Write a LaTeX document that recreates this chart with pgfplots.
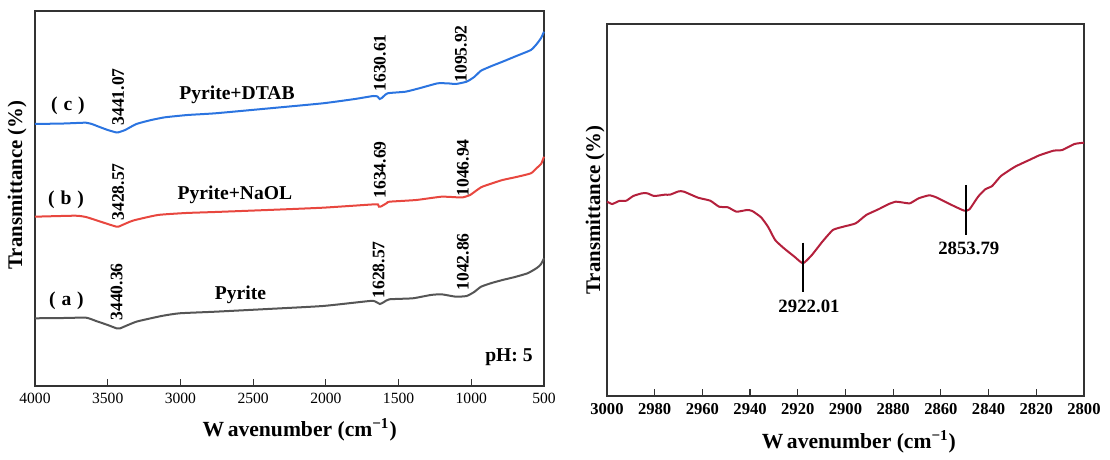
\documentclass[border=0pt]{standalone}
\usepackage{fontspec}
\setmainfont{Liberation Serif}
\usepackage{pgfplots}
\pgfplotsset{compat=1.18}
\definecolor{cblue}{HTML}{2B74E0}
\definecolor{cred}{HTML}{E8473F}
\definecolor{cgray}{HTML}{555555}
\definecolor{ccrim}{HTML}{B4203C}
\newcommand{\fs}[1]{\fontsize{#1}{#1}\selectfont}
\begin{document}
\begin{tikzpicture}
\useasboundingbox (0,0) rectangle (555pt,230pt);
\begin{axis}[
  at={(17.5pt,37pt)}, anchor=south west,
  width=254.5pt, height=187.5pt, scale only axis,
  xmin=500, xmax=4000, x dir=reverse, ymin=0, ymax=375,
  xtick={500,1000,...,4000}, ytick=\empty,
  tick align=inside, xtick pos=lower, major tick length=3.5pt,
  axis line style={line width=0.6pt, black!80}, tick style={line width=0.6pt, black!80},
  /pgf/number format/assume math mode=true,
  /pgf/number format/1000 sep={},
  tick label style={font=\fs{7.8}},
  xlabel={\textbf{W\,avenumber (cm\textsuperscript{\textminus1})}},
  xlabel style={at={(axis description cs:0.52,-0.117)}, anchor=center, font=\fs{10.8}},
  ylabel={\textbf{Transmittance (\%)}},
  ylabel style={at={(axis description cs:-0.035,0.536)}, anchor=center, font=\fs{10.4}},
  clip=false,
]
\addplot[cblue, line width=1pt, smooth, tension=0.3] coordinates {
(4000,262)(3800,262.5)(3649,263.3)(3600,261.5)(3574,260)(3500,256)(3440,253.5)(3426,253.7)(3380,256)(3303,262)(3200,266)(3106,268.7)(2950,271)(2760,272.7)(2400,277.5)(2020,282.7)(1800,287)(1674,290)(1645,289.5)(1630,287)(1615,288)(1575,292.7)(1452,294.3)(1350,298)(1230,302.7)(1150,302.5)(1106,302)(1032,304.3)(980,309)(933,315.3)(860,320)(785,324.3)(690,330)(590,336)(550,342)(520,348)(500,354.3)};
\addplot[cred, line width=1pt, smooth, tension=0.3] coordinates {
(4000,169.3)(3722,170.3)(3650,169)(3599,166.7)(3500,162)(3440,159.3)(3426,159.3)(3328,165.3)(3155,171)(2960,173)(2760,174)(2400,176)(2020,178.3)(1662,181.7)(1640,181)(1634,179.3)(1621,179.5)(1580,183)(1563,184.3)(1378,186)(1205,189.3)(1100,188.7)(1057,188.7)(1008,191)(933,198.7)(860,202.5)(785,206)(690,209)(590,212.7)(550,218)(520,222)(500,229.3)};
\addplot[cgray, line width=1pt, smooth, tension=0.3] coordinates {
(4000,67.7)(3800,68)(3649,68.3)(3580,65)(3500,61)(3440,57.7)(3414,57.7)(3303,64.3)(3130,70)(3006,72.7)(2760,74.3)(2400,77)(2020,80)(1699,85)(1660,84.5)(1628,82)(1600,84)(1563,86.7)(1402,87.7)(1279,91)(1205,91.7)(1106,89.3)(1032,90)(980,94)(933,99.3)(860,103)(785,106)(700,109)(613,112.7)(560,117)(538,119.3)(520,122)(500,127.7)};
\begin{scope}[every node/.style={font=\bfseries\fs{9.8}}]
\node at (axis cs:3773,280) {(\hspace{0.3em}c\hspace{0.3em})};
\node at (axis cs:3787,186) {(\hspace{0.3em}b\hspace{0.3em})};
\node at (axis cs:3784,85) {(\hspace{0.3em}a\hspace{0.3em})};
\node at (axis cs:2611,291) {Pyrite+DTAB};
\node at (axis cs:2625,191) {Pyrite+NaOL};
\node at (axis cs:2587,91) {Pyrite};
\node at (axis cs:741,29) {pH: 5};
\end{scope}
\begin{scope}[every node/.style={font=\bfseries\fs{8.8}, rotate=90}]
\node at (axis cs:3429,289) {3441.07};
\node at (axis cs:1628,323) {1630.61};
\node at (axis cs:1071,332) {1095.92};
\node at (axis cs:3429,194) {3428.57};
\node at (axis cs:1628,216) {1634.69};
\node at (axis cs:1057,218) {1046.94};
\node at (axis cs:3438,94) {3440.36};
\node at (axis cs:1637,116) {1628.57};
\node at (axis cs:1057,124) {1042.86};
\end{scope}
\end{axis}
\begin{axis}[
  at={(303.5pt,32pt)}, anchor=south west,
  width=238.5pt, height=186pt, scale only axis,
  xmin=2800, xmax=3000, x dir=reverse, ymin=0, ymax=372,
  xtick={2800,2820,...,3000}, ytick=\empty,
  tick align=inside, xtick pos=lower, major tick length=3.5pt,
  axis line style={line width=0.6pt, black!80}, tick style={line width=0.6pt, black!80},
  /pgf/number format/assume math mode=true,
  /pgf/number format/1000 sep={},
  tick label style={font=\bfseries\fs{8.3}},
  xlabel={\textbf{W\,avenumber (cm\textsuperscript{\textminus1})}},
  xlabel style={at={(axis description cs:0.528,-0.123)}, anchor=center, font=\fs{10.8}},
  ylabel={\textbf{Transmittance (\%)}},
  ylabel style={at={(axis description cs:-0.025,0.5)}, anchor=center, font=\fs{10.4}},
  clip=false,
]
\addplot[ccrim, line width=1pt, smooth, tension=0.3] coordinates {
(3000,194.3)(2997.8,192)(2994.9,195)(2991.9,195.3)(2989,200)(2985.3,202.7)(2983.1,202.7)(2980.2,200)(2975.8,201.3)(2973.6,201.3)(2969.9,204.7)(2967.7,204.3)(2961.8,198.3)(2956.7,195.3)(2953,189.3)(2949.3,188.7)(2945.7,184.3)(2941.3,186)(2939.1,185)(2935.4,178.7)(2932.5,169.3)(2929.5,156)(2925.8,147.7)(2921.4,139.3)(2917.8,132.7)(2914.1,141)(2909.7,154.3)(2905.3,166)(2900.9,169.3)(2895.7,172.7)(2891.3,181)(2886.2,186.7)(2881.8,192)(2878.9,194.3)(2876.6,193.7)(2873,192.7)(2869.3,197.7)(2864.9,200.7)(2862,198.7)(2858.3,194.3)(2854.6,190)(2850.2,185.3)(2848,186.7)(2844.4,199.3)(2841.4,206.7)(2838.5,210)(2834.8,220)(2828.9,229.3)(2822.3,236.7)(2818.7,240.7)(2812.8,245.3)(2809.1,246)(2804,252)(2800,253.3)};
\draw[line width=0.6pt] (axis cs:2917.8,153.3) -- (axis cs:2917.8,104.3);
\draw[line width=0.6pt] (axis cs:2849.5,211) -- (axis cs:2849.5,161);
\node[font=\bfseries\fs{9.4}] at (axis cs:2915.3,90) {2922.01};
\node[font=\bfseries\fs{9.4}] at (axis cs:2848.3,147.7) {2853.79};
\end{axis}
\end{tikzpicture}
\end{document}
